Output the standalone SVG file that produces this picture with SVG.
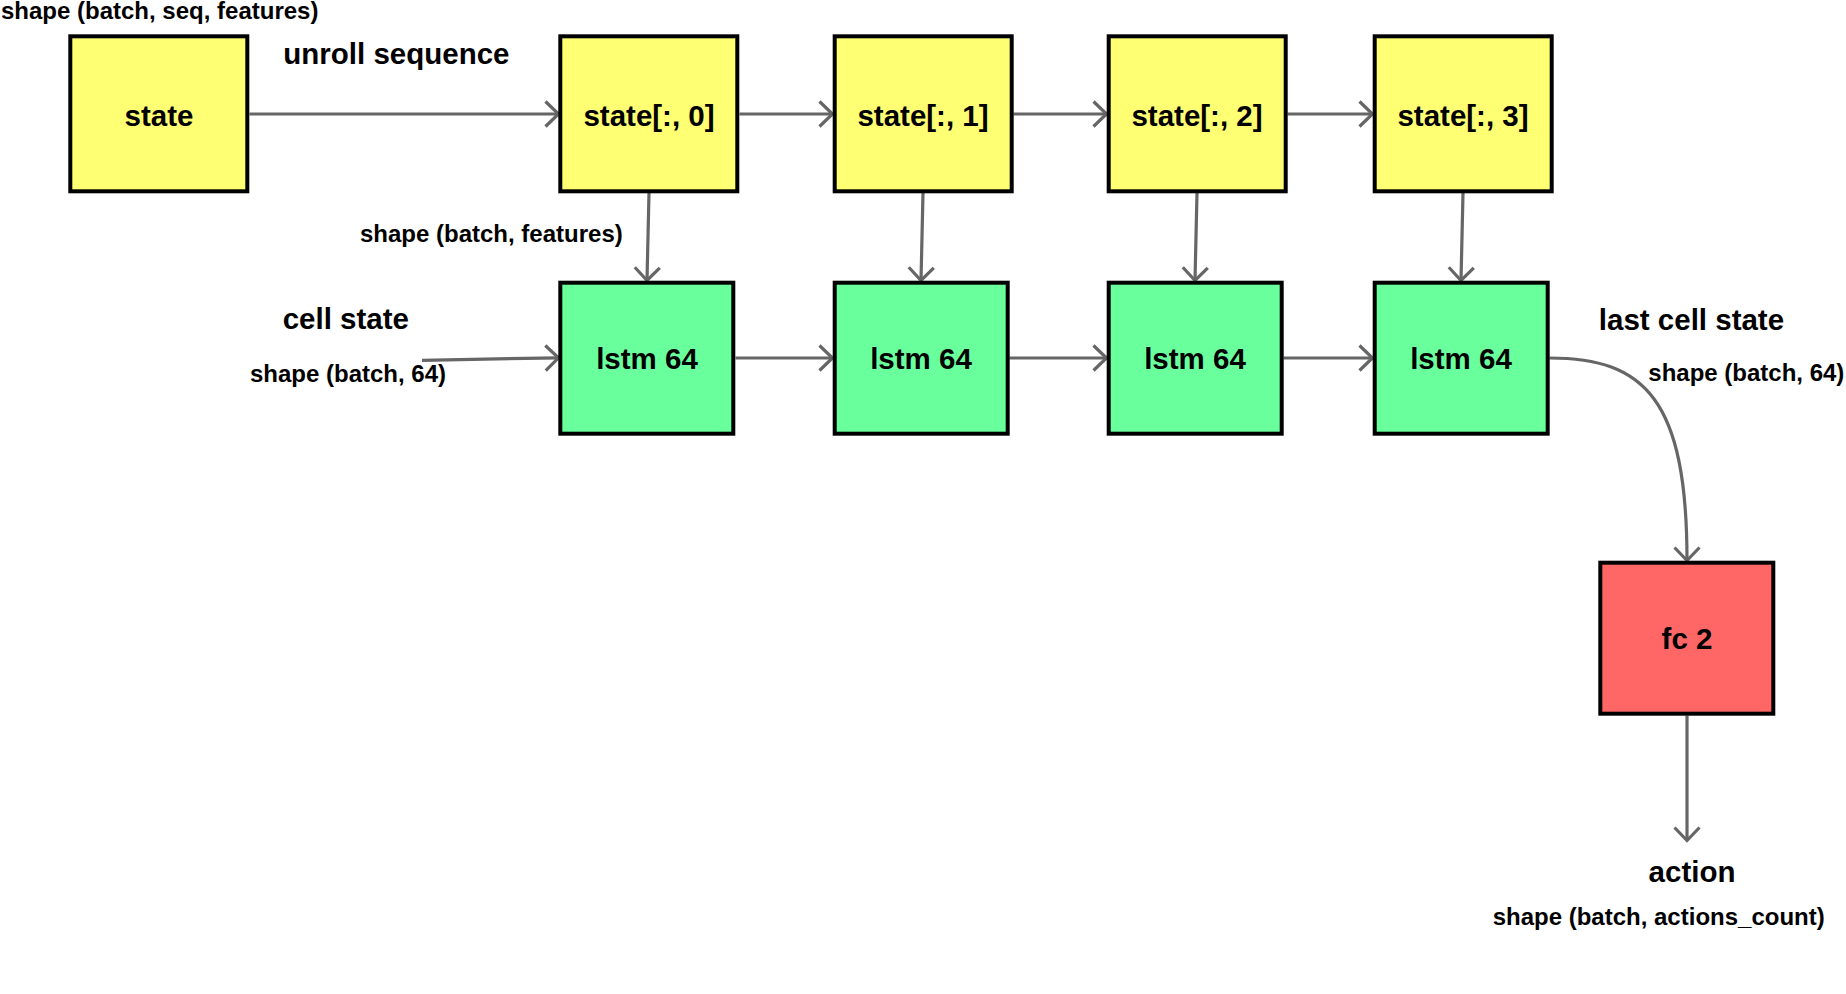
<svg xmlns="http://www.w3.org/2000/svg" width="1846" height="994" viewBox="0 0 1846 994">
  <style>
    .box { stroke: #000000; stroke-width: 4; }
    .input { fill: #FFFF73; }
    .lstm { fill: #69FF9C; }
    .fc { fill: #FF6666; }
    .name { font-family: "Liberation Sans", Arial, sans-serif; font-weight: bold; font-size: 29.5px; fill: #000000; }
    .shape { font-family: "Liberation Sans", Arial, sans-serif; font-weight: bold; font-size: 24px; fill: #000000; }
    .edge { fill: none; stroke: #666666; stroke-width: 3.2; }
  </style>
  <defs>
    <marker id="open-arrow" markerUnits="userSpaceOnUse" viewBox="-16 -16 20 32" refX="0" refY="0" markerWidth="20" markerHeight="32" orient="auto" overflow="visible">
      <path d="M-13,-12.5 L0,0 L-13,12.5" fill="none" stroke="#666666" stroke-width="3.2"/>
    </marker>
  </defs>

  <rect width="1846" height="994" fill="#ffffff"/>

  <!-- connectors -->
  <g id="connectors">
    <path class="edge" d="M249.5,114 L558.5,114" marker-end="url(#open-arrow)"/>
    <path class="edge" d="M739.5,114 L832.5,114" marker-end="url(#open-arrow)"/>
    <path class="edge" d="M1013.5,114 L1106.5,114" marker-end="url(#open-arrow)"/>
    <path class="edge" d="M1287.5,114 L1372.5,114" marker-end="url(#open-arrow)"/>

    <path class="edge" d="M649,193 L647,280.5" marker-end="url(#open-arrow)"/>
    <path class="edge" d="M923,193 L921,280.5" marker-end="url(#open-arrow)"/>
    <path class="edge" d="M1197,193 L1195,280.5" marker-end="url(#open-arrow)"/>
    <path class="edge" d="M1463,193 L1461,280.5" marker-end="url(#open-arrow)"/>

    <path class="edge" d="M422,360.3 L558.5,357.8" marker-end="url(#open-arrow)"/>
    <path class="edge" d="M735.5,358 L832.5,358" marker-end="url(#open-arrow)"/>
    <path class="edge" d="M1009.5,358 L1106.5,358" marker-end="url(#open-arrow)"/>
    <path class="edge" d="M1283.5,358 L1372.5,358" marker-end="url(#open-arrow)"/>

    <path class="edge" d="M1549.5,358 C1645,358 1687,400 1687,560.5" marker-end="url(#open-arrow)"/>
    <path class="edge" d="M1687,715.5 L1687,840.5" marker-end="url(#open-arrow)"/>
  </g>

  <!-- sequence input and its time slices -->
  <g id="state">
    <rect class="box input" x="70.3" y="36.3" width="177" height="155"/>
    <text class="name" x="159" y="126" text-anchor="middle">state</text>
  </g>
  <g id="state-0">
    <rect class="box input" x="560.3" y="36.3" width="177" height="155"/>
    <text class="name" x="649" y="126" text-anchor="middle">state[:, 0]</text>
  </g>
  <g id="state-1">
    <rect class="box input" x="834.7" y="36.3" width="177" height="155"/>
    <text class="name" x="923" y="126" text-anchor="middle">state[:, 1]</text>
  </g>
  <g id="state-2">
    <rect class="box input" x="1108.7" y="36.3" width="177" height="155"/>
    <text class="name" x="1197" y="126" text-anchor="middle">state[:, 2]</text>
  </g>
  <g id="state-3">
    <rect class="box input" x="1374.7" y="36.3" width="177" height="155"/>
    <text class="name" x="1463" y="126" text-anchor="middle">state[:, 3]</text>
  </g>

  <!-- recurrent cells -->
  <g id="lstm-0">
    <rect class="box lstm" x="560.3" y="282.7" width="173" height="151"/>
    <text class="name" x="647" y="369" text-anchor="middle">lstm 64</text>
  </g>
  <g id="lstm-1">
    <rect class="box lstm" x="834.7" y="282.7" width="173" height="151"/>
    <text class="name" x="921" y="369" text-anchor="middle">lstm 64</text>
  </g>
  <g id="lstm-2">
    <rect class="box lstm" x="1108.7" y="282.7" width="173" height="151"/>
    <text class="name" x="1195" y="369" text-anchor="middle">lstm 64</text>
  </g>
  <g id="lstm-3">
    <rect class="box lstm" x="1374.7" y="282.7" width="173" height="151"/>
    <text class="name" x="1461" y="369" text-anchor="middle">lstm 64</text>
  </g>

  <!-- output layer -->
  <g id="fc">
    <rect class="box fc" x="1600.3" y="562.7" width="173" height="151"/>
    <text class="name" x="1687" y="649.3" text-anchor="middle">fc 2</text>
  </g>

  <!-- free labels -->
  <g id="labels">
    <text class="shape" x="1" y="19" font-size="23.7">shape (batch, seq, features)</text>
    <text class="name" x="283.3" y="63.5">unroll sequence</text>
    <text class="shape" x="360" y="241.5">shape (batch, features)</text>
    <text class="name" x="282.7" y="329.3">cell state</text>
    <text class="shape" x="250" y="381.5">shape (batch, 64)</text>
    <text class="name" x="1598.8" y="329.5">last cell state</text>
    <text class="shape" x="1648.3" y="380.7">shape (batch, 64)</text>
    <text class="name" x="1692" y="881.7" text-anchor="middle">action</text>
    <text class="shape" x="1658.7" y="925" text-anchor="middle">shape (batch, actions_count)</text>
  </g>
</svg>
